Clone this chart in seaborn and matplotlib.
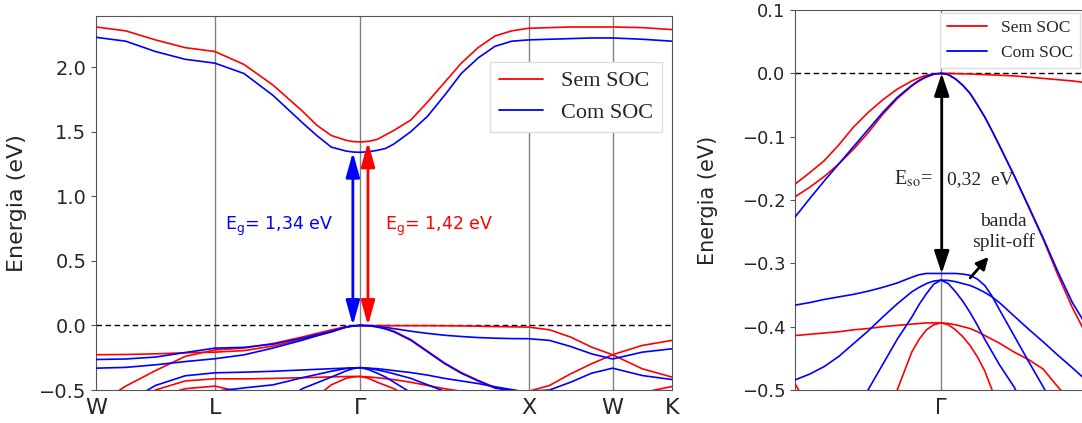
import numpy as np
import pandas as pd
import matplotlib
matplotlib.use("Agg")
import matplotlib.pyplot as plt
import seaborn as sns
from matplotlib.lines import Line2D
from matplotlib.patches import ArrowStyle

sns.set_style("ticks")
plt.rcParams["font.family"] = ["DejaVu Sans"]
plt.rcParams["axes.edgecolor"] = "#555555"

# ---------------- left panel: full band structure ----------------
kpath_labels = ["W", "L", "Γ", "X", "W", "K"]
kpath_pos = [0.0, 0.7071, 1.5731, 2.5731, 3.0731, 3.4267]

# sampled k along W-L-Γ-X-W-K
k_path = [0.0, 0.1768, 0.3536, 0.5303,
          0.7071, 0.8803, 1.0535, 1.2267, 1.3133, 1.3999, 1.4865, 1.5298,
          1.5731, 1.6231, 1.6731, 1.7231, 1.7731, 1.8731, 1.9731, 2.0731, 2.1731, 2.2731, 2.3731, 2.4731,
          2.5731, 2.6981, 2.8231, 2.9481,
          3.0731, 3.2499, 3.4267]

# Sem SOC (red)
sem_cb = [2.31, 2.28, 2.21, 2.15,
          2.12, 2.02, 1.86, 1.66, 1.55, 1.47, 1.433, 1.423,
          1.42, 1.425, 1.44, 1.475, 1.51, 1.59, 1.73, 1.88, 2.03, 2.15, 2.24, 2.28,
          2.30, 2.305, 2.31, 2.31,
          2.31, 2.305, 2.29]
sem_v1 = [-0.227, -0.225, -0.22, -0.212,
          -0.207, -0.195, -0.16, -0.11, -0.08, -0.05, -0.015, -0.004,
          0.0, -0.001, -0.002, -0.002, -0.002, -0.002, -0.002, -0.003, -0.004, -0.006, -0.009, -0.011,
          -0.013, -0.034, -0.09, -0.168,
          -0.227, -0.336, -0.40]
sem_v2 = [-0.62, -0.47, -0.35, -0.24,
          -0.19, -0.175, -0.14, -0.09, -0.062, -0.035, -0.01, -0.003,
          0.0, -0.003, -0.01, -0.025, -0.045, -0.11, -0.20, -0.29, -0.365, -0.425, -0.48, -0.505,
          -0.51, -0.465, -0.375, -0.297,
          -0.227, -0.155, -0.116]
sem_v3 = [-0.70, -0.62, -0.50, -0.43,
          -0.413, -0.414, -0.41, -0.405, -0.402, -0.398, -0.396, -0.395,
          -0.395, -0.399, -0.405, -0.412, -0.42, -0.44, -0.465, -0.49, -0.51, -0.53, -0.55, -0.57,
          -0.58, -0.60, -0.60, -0.60,
          -0.62, -0.52, -0.473]
sem_v4 = [-0.80, -0.72, -0.56, -0.49,
          -0.47, -0.52, -0.60, -0.65, -0.55, -0.46, -0.41, -0.399,
          -0.395, -0.41, -0.44, -0.465, -0.49, -0.56, -0.65, -0.70, -0.70, -0.70, -0.70, -0.70,
          -0.70, -0.70, -0.70, -0.70,
          -0.70, -0.70, -0.70]

# Com SOC (blue)
com_cb = [2.23, 2.20, 2.12, 2.06,
          2.03, 1.95, 1.78, 1.57, 1.47, 1.38, 1.35, 1.342,
          1.34, 1.345, 1.355, 1.37, 1.405, 1.50, 1.62, 1.78, 1.95, 2.07, 2.16, 2.20,
          2.21, 2.215, 2.22, 2.225,
          2.225, 2.215, 2.20]
com_v1 = [-0.264, -0.26, -0.245, -0.21,
          -0.176, -0.17, -0.145, -0.10, -0.072, -0.045, -0.013, -0.004,
          0.0, -0.003, -0.008, -0.015, -0.025, -0.045, -0.062, -0.076, -0.086, -0.094, -0.099, -0.102,
          -0.103, -0.116, -0.163, -0.22,
          -0.26, -0.207, -0.181]
com_v2 = [-0.331, -0.325, -0.305, -0.28,
          -0.258, -0.228, -0.175, -0.115, -0.08, -0.05, -0.013, -0.004,
          0.0, -0.003, -0.012, -0.028, -0.05, -0.115, -0.205, -0.295, -0.37, -0.43, -0.485, -0.505,
          -0.51, -0.50, -0.44, -0.37,
          -0.331, -0.388, -0.419]
com_v3 = [-0.75, -0.60, -0.465, -0.39,
          -0.367, -0.362, -0.355, -0.345, -0.34, -0.335, -0.331, -0.329,
          -0.328, -0.331, -0.335, -0.342, -0.35, -0.365, -0.385, -0.41, -0.43, -0.45, -0.475, -0.497,
          -0.52, -0.60, -0.65, -0.65,
          -0.65, -0.65, -0.65]
com_v4 = [-0.80, -0.75, -0.70, -0.60,
          -0.51, -0.484, -0.46, -0.405, -0.38, -0.355, -0.334, -0.329,
          -0.3265, -0.333, -0.345, -0.358, -0.375, -0.41, -0.46, -0.51, -0.56, -0.60, -0.60, -0.60,
          -0.65, -0.65, -0.65, -0.65,
          -0.65, -0.65, -0.65]
com_v5 = [-0.80, -0.80, -0.80, -0.80,
          -0.80, -0.75, -0.65, -0.49, -0.445, -0.40, -0.353, -0.335,
          -0.3265, -0.343, -0.37, -0.40, -0.44, -0.52, -0.60, -0.70, -0.70, -0.70, -0.70, -0.70,
          -0.70, -0.70, -0.70, -0.70,
          -0.70, -0.70, -0.70]

gap_sem = 1.42
gap_com = 1.34

# ---------------- right panel: zoom around Γ ----------------
k_zoom = [-1.0, -0.9, -0.8, -0.7, -0.6, -0.5, -0.4, -0.3, -0.2, -0.15, -0.1, -0.05,
          0.0,
          0.05, 0.1, 0.15, 0.2, 0.25, 0.3, 0.35, 0.4, 0.5, 0.6, 0.7, 0.8, 0.9, 1.0]

zsem_1 = [-0.175, -0.157, -0.138, -0.113, -0.085, -0.062, -0.042, -0.025, -0.012, -0.007, -0.003, -0.001,
          0.0,
          0.0, -0.0005, -0.0008, -0.001, -0.0015, -0.002, -0.0025, -0.003, -0.004, -0.006, -0.008,
          -0.010, -0.012, -0.015]
zsem_2 = [-0.195, -0.18, -0.163, -0.143, -0.12, -0.094, -0.065, -0.04, -0.02, -0.012, -0.006, -0.0015,
          0.0,
          -0.002, -0.009, -0.019, -0.032, -0.05, -0.069, -0.091, -0.114, -0.161, -0.211, -0.262,
          -0.318, -0.37, -0.415]
zsem_3 = [-0.414, -0.412, -0.41, -0.408, -0.405, -0.403, -0.40, -0.398, -0.396, -0.395, -0.394, -0.394,
          -0.394,
          -0.395, -0.397, -0.40, -0.403, -0.408, -0.414, -0.42, -0.426, -0.44, -0.452, -0.467,
          -0.495, -0.52, -0.55]
zsem_4 = [-0.90, -0.85, -0.80, -0.75, -0.69, -0.63, -0.56, -0.50, -0.44, -0.42, -0.405, -0.397,
          -0.394,
          -0.397, -0.405, -0.416, -0.43, -0.448, -0.47, -0.50, -0.535, -0.60, -0.65, -0.70,
          -0.75, -0.80, -0.85]
zsem_5 = [-0.49, -0.53, -0.57, -0.80, -0.80, -0.80, -0.80, -0.80, -0.80, -0.80, -0.80, -0.80,
          -0.80,
          -0.80, -0.80, -0.80, -0.80, -0.80, -0.80, -0.80, -0.80, -0.80, -0.80, -0.80,
          -0.80, -0.80, -0.80]

zcom_1 = [-0.227, -0.198, -0.17, -0.143, -0.116, -0.089, -0.062, -0.038, -0.019, -0.011, -0.005, -0.0012,
          0.0,
          -0.002, -0.009, -0.019, -0.032, -0.05, -0.069, -0.091, -0.114, -0.161, -0.21, -0.26,
          -0.313, -0.362, -0.40]
zcom_2 = [-0.366, -0.362, -0.357, -0.353, -0.349, -0.344, -0.338, -0.331, -0.322, -0.318, -0.316, -0.316,
          -0.316,
          -0.316, -0.316, -0.317, -0.319, -0.325, -0.335, -0.352, -0.373, -0.414, -0.455, -0.495,
          -0.536, -0.60, -0.65]
zcom_3 = [-0.484, -0.475, -0.463, -0.447, -0.427, -0.407, -0.385, -0.364, -0.345, -0.338, -0.332, -0.328,
          -0.3265,
          -0.327, -0.329, -0.332, -0.335, -0.34, -0.346, -0.353, -0.362, -0.383, -0.404, -0.424,
          -0.445, -0.465, -0.486]
zcom_4 = [-0.75, -0.70, -0.65, -0.60, -0.545, -0.50, -0.46, -0.42, -0.385, -0.365, -0.348, -0.333,
          -0.3265,
          -0.332, -0.345, -0.36, -0.378, -0.398, -0.42, -0.44, -0.46, -0.495, -0.54, -0.60,
          -0.65, -0.70, -0.75]

e_so = 0.316

RED = "#ff0000"
BLUE = "#0000ff"


def long_df(k, bands):
    frames = []
    for i, b in enumerate(bands):
        frames.append(pd.DataFrame({"k": k, "E": b, "band": i}))
    return pd.concat(frames, ignore_index=True)


def draw_bands(ax, k, bands, color, lw):
    df = long_df(k, bands)
    sns.lineplot(data=df, x="k", y="E", units="band", estimator=None, sort=False,
                 color=color, lw=lw, ax=ax, legend=False, zorder=3)


fig = plt.figure(figsize=(10.82, 4.23), dpi=100)
W, H = 1082, 423
ax1 = fig.add_axes([96 / W, 33 / H, 576 / W, 374 / H])
ax2 = fig.add_axes([795 / W, 33 / H, 292 / W, 380 / H])

# ---- left panel
for kp in kpath_pos[1:-1]:
    ax1.axvline(kp, color="#808080", lw=1.0, zorder=1)
ax1.axhline(0, color="black", lw=1.0, ls=(0, (4, 2.5)), zorder=2)
draw_bands(ax1, k_path, [sem_cb, sem_v1, sem_v2, sem_v3, sem_v4], RED, 1.2)
draw_bands(ax1, k_path, [com_cb, com_v1, com_v2, com_v3, com_v4, com_v5], BLUE, 1.2)

kG = kpath_pos[2]
style = ArrowStyle("<|-|>", head_length=1.0, head_width=0.28)
ax1.annotate("", xy=(kG - 0.045, gap_com), xytext=(kG - 0.045, 0),
             arrowprops=dict(arrowstyle=style, color=BLUE, lw=2, mutation_scale=15,
                             shrinkA=0, shrinkB=0), zorder=5)
ax1.annotate("", xy=(kG + 0.045, gap_sem), xytext=(kG + 0.045, 0),
             arrowprops=dict(arrowstyle=style, color=RED, lw=2, mutation_scale=15,
                             shrinkA=0, shrinkB=0), zorder=5)
ax1.text(1.41, 0.742, "E$_\\mathrm{g}$= 1,34 eV", color=BLUE, ha="right", va="baseline",
         fontsize=12.5)
ax1.text(1.7195, 0.742, "E$_\\mathrm{g}$= 1,42 eV", color=RED, ha="left", va="baseline",
         fontsize=12.5)

ax1.set_xlim(kpath_pos[0], kpath_pos[-1])
ax1.set_ylim(-0.5, 2.395)
ax1.set_xticks(kpath_pos)
ax1.set_xticklabels(kpath_labels, fontsize=16)
ax1.tick_params(axis="x", length=0, pad=6)
ax1.set_yticks([-0.5, 0.0, 0.5, 1.0, 1.5, 2.0])
ax1.tick_params(axis="y", labelsize=14, length=3.5, color="#555555")
ax1.set_xlabel("")
ax1.set_ylabel("Energia (eV)", fontsize=16)
ax1.yaxis.set_label_coords(-0.12, 0.5)
handles = [Line2D([], [], color=RED, lw=1.3), Line2D([], [], color=BLUE, lw=1.3)]
ax1.legend(handles, ["Sem SOC", "Com SOC"], loc="upper right",
           bbox_to_anchor=(0.983, 0.877), borderaxespad=0,
           prop={"family": "Liberation Serif", "size": 16}, framealpha=1,
           edgecolor="#dddddd", fancybox=False, handlelength=2.0)

# ---- right panel
ax2.axvline(0, color="#808080", lw=1.0, zorder=1)
ax2.axhline(0, color="black", lw=1.0, ls=(0, (4, 2.5)), zorder=2)
draw_bands(ax2, k_zoom, [zsem_1, zsem_2, zsem_3, zsem_4, zsem_5], RED, 1.2)
draw_bands(ax2, k_zoom, [zcom_1, zcom_2, zcom_3, zcom_4], BLUE, 1.2)

style2 = ArrowStyle("<|-|>", head_length=0.9, head_width=0.3)
ax2.annotate("", xy=(0.005, -e_so), xytext=(0.005, 0),
             arrowprops=dict(arrowstyle=style2, color="black", lw=2, mutation_scale=15,
                             shrinkA=0, shrinkB=0), zorder=5)
ax2.text(-0.322, -0.175, "E$_{\\rm so}$=", fontsize=14.5, family="Liberation Serif",
         math_fontfamily="stix", ha="left", va="baseline")
ax2.text(0.041, -0.175, "0,32  eV", fontsize=14, family="Liberation Serif",
         ha="left", va="baseline")
ax2.text(0.425, -0.251, "banda\nsplit-off", fontsize=14, family="Liberation Serif",
         ha="center", va="center", multialignment="center", linespacing=1.2)
ax2.annotate("", xy=(0.325, -0.29), xytext=(0.2, -0.323),
             arrowprops=dict(arrowstyle=ArrowStyle("-|>", head_length=0.6, head_width=0.3),
                             color="black", lw=2, mutation_scale=12,
                             shrinkA=0, shrinkB=0), zorder=5)

ax2.set_xlim(-1, 1)
ax2.set_ylim(-0.5, 0.1)
ax2.set_xticks([0])
ax2.set_xticklabels(["Γ"], fontsize=15)
ax2.tick_params(axis="x", length=0, pad=6)
ax2.set_yticks([-0.5, -0.4, -0.3, -0.2, -0.1, 0.0, 0.1])
ax2.tick_params(axis="y", labelsize=13, length=3.5, color="#555555")
ax2.set_xlabel("")
ax2.set_ylabel("Energia (eV)", fontsize=15)
ax2.yaxis.set_label_coords(-0.264, 0.5)
ax2.legend(handles, ["Sem SOC", "Com SOC"], loc="upper right",
           bbox_to_anchor=(0.976, 0.992), borderaxespad=0,
           prop={"family": "Liberation Serif", "size": 12.5}, framealpha=1,
           edgecolor="#dddddd", fancybox=False, handlelength=2.3)

fig.savefig("out.png", dpi=100)
